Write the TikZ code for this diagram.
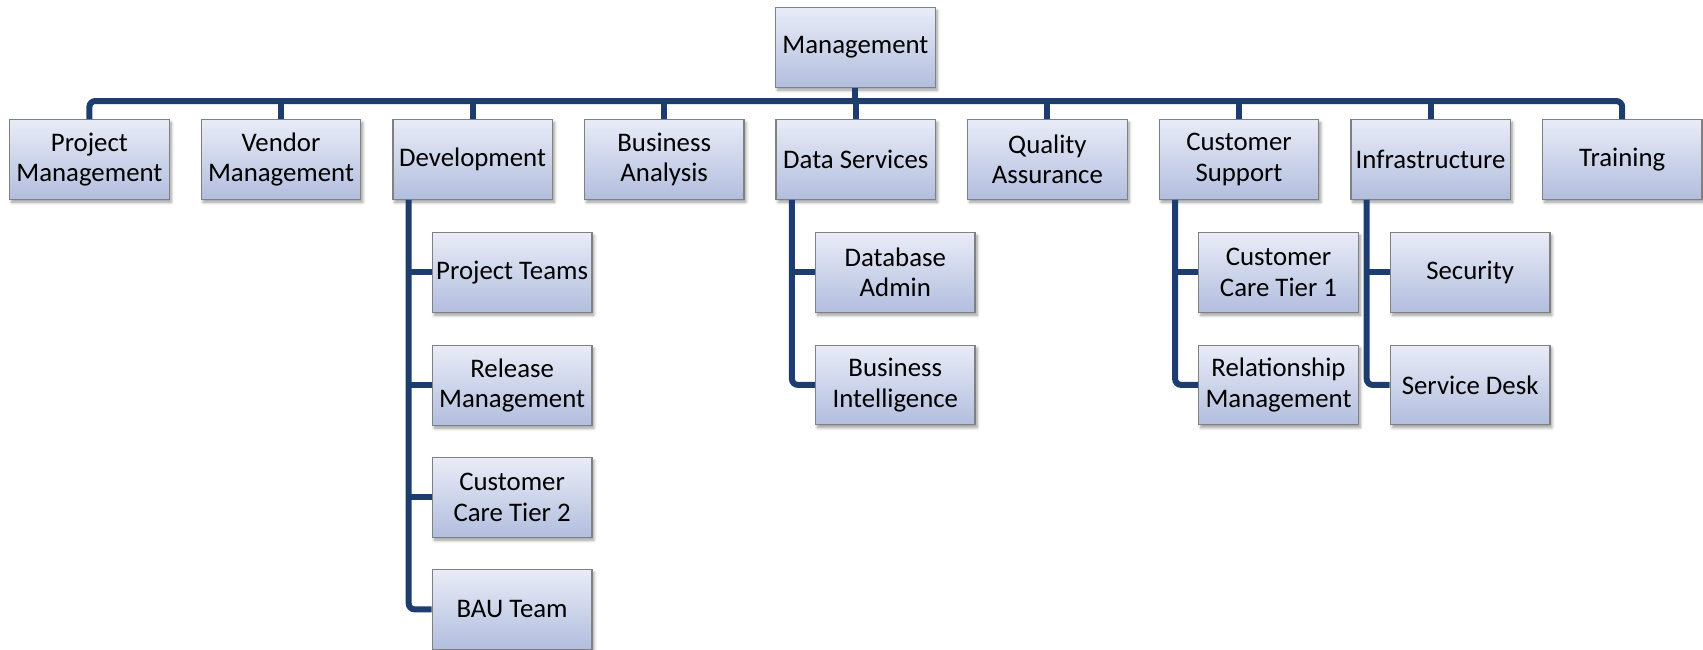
\documentclass[tikz,border=0pt]{standalone}
\usepackage{fontspec}
\setmainfont{Carlito}
\usetikzlibrary{calc,shadows.blur}
\definecolor{boxtop}{RGB}{233,236,247}
\definecolor{boxbot}{RGB}{178,190,222}
\definecolor{boxline}{RGB}{128,128,128}
\definecolor{navy}{RGB}{28,61,110}
\tikzset{
  orgbox/.style={draw=boxline, line width=1.3pt, top color=boxtop, bottom color=boxbot,
    minimum width=159.5pt, minimum height=79.5pt, inner sep=0pt, anchor=north west,
    align=center, font=\fontsize{26.8}{30.5}\selectfont,
    blur shadow={shadow xshift=2pt, shadow yshift=-3pt, shadow blur radius=3pt, shadow blur steps=6, shadow opacity=40}},
  conn/.style={draw=navy, line width=6pt},
  rconn/.style={conn, rounded corners=6pt},
}
\begin{document}
\begin{tikzpicture}[x=1pt,y=-1pt]
\useasboundingbox (0,0) rectangle (1703,649);
% top
\node[orgbox] (mgmt) at (775,7) {Management};
% level 1
\node[orgbox] (pm)  at (9,119)     {Project\\Management};
\node[orgbox] (vm)  at (200.6,119) {Vendor\\Management};
\node[orgbox] (dev) at (392.2,119) {Development};
\node[orgbox] (ba)  at (583.8,119) {Business\\Analysis};
\node[orgbox] (ds)  at (775.4,119) {Data Services};
\node[orgbox] (qa)  at (967,119)   {Quality\\Assurance};
\node[orgbox] (cs)  at (1158.6,119){Customer\\Support};
\node[orgbox] (inf) at (1350.2,119){Infrastructure};
\node[orgbox] (tr)  at (1541.8,119){Training};
% development children
\node[orgbox] (pt)  at (431.7,232) {Project Teams};
\node[orgbox] (rm)  at (431.7,345) {Release\\Management};
\node[orgbox] (cc2) at (431.7,457) {Customer\\Care Tier 2};
\node[orgbox] (bau) at (431.7,569) {BAU Team};
% data services children
\node[orgbox] (dba) at (814.9,232) {Database\\Admin};
\node[orgbox] (bi)  at (814.9,344.5) {Business\\Intelligence};
% customer support children
\node[orgbox] (cc1) at (1198.1,232) {Customer\\Care Tier 1};
\node[orgbox] (rel) at (1198.1,344.5) {Relationship\\Management};
% infrastructure children
\node[orgbox] (sec) at (1389.7,232) {Security};
\node[orgbox] (sd)  at (1389.7,344.5) {Service Desk};
% connectors
\coordinate (bar) at (855,101);
\draw[conn] (mgmt.south) -- (mgmt.south |- bar);
\draw[rconn] (pm.north) |- (bar) -| (tr.north);
\foreach \n in {vm,dev,ba,ds,qa,cs,inf}{
  \draw[conn] (\n.north) -- (\n.north |- bar);
}
% development spine
\coordinate (devs) at ($(dev.south west)+(16.5,0)$);
\draw[rconn] (devs) |- (bau.west);
\foreach \n in {pt,rm,cc2}{ \draw[conn] (devs |- \n.west) -- (\n.west); }
% data services spine
\coordinate (dss) at ($(ds.south west)+(16.5,0)$);
\draw[rconn] (dss) |- (bi.west);
\draw[conn] (dss |- dba.west) -- (dba.west);
% customer support spine
\coordinate (css) at ($(cs.south west)+(16.5,0)$);
\draw[rconn] (css) |- (rel.west);
\draw[conn] (css |- cc1.west) -- (cc1.west);
% infrastructure spine
\coordinate (infs) at ($(inf.south west)+(16.5,0)$);
\draw[rconn] (infs) |- (sd.west);
\draw[conn] (infs |- sec.west) -- (sec.west);
\end{tikzpicture}
\end{document}
